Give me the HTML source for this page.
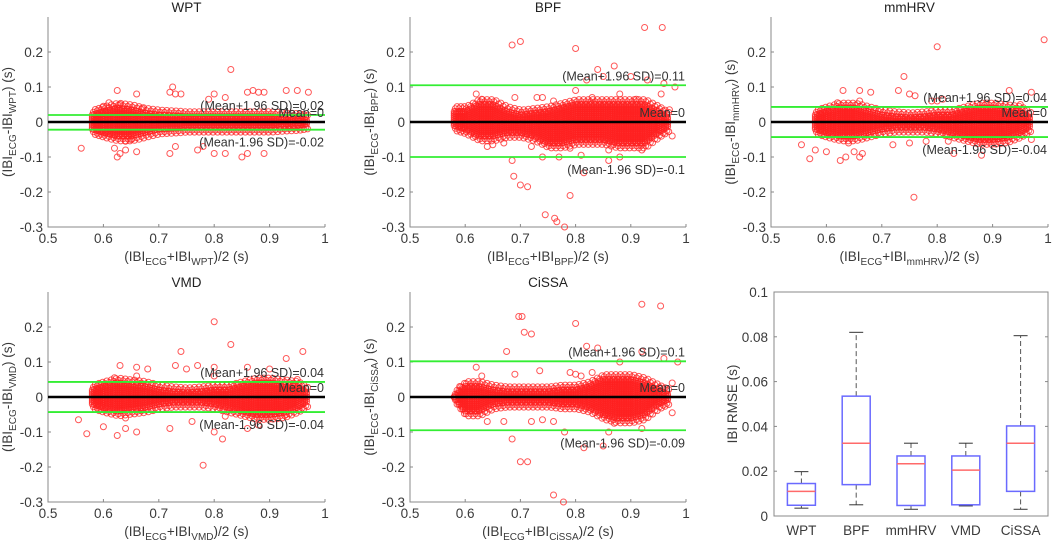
<!DOCTYPE html>
<html><head><meta charset="utf-8">
<style>
html,body{margin:0;padding:0;background:#fff;}
svg{display:block;font-family:"Liberation Sans",Arial,sans-serif;}
.tk{font-size:13.5px;fill:#3a3a3a;}
.ttl{font-size:13.5px;fill:#222;}
.ann{font-size:12.5px;fill:#333;}
</style></head>
<body>
<svg id="fig" width="1059" height="547" viewBox="0 0 1059 547" xmlns="http://www.w3.org/2000/svg"></svg>
<script>
// ---------- Data ----------
const panelNames = ["WPT","BPF","mmHRV","VMD","CiSSA"];
const xTicks = [0.5,0.6,0.7,0.8,0.9,1];
const xTickLabels = ["0.5","0.6","0.7","0.8","0.9","1"];
const yTicks = [-0.3,-0.2,-0.1,0,0.1,0.2];
const yTickLabels = ["-0.3","-0.2","-0.1","0","0.1","0.2"];
const meanVals = [0,0,0,0,0];
const upperLoA = [0.02,0.105,0.043,0.043,0.102];
const lowerLoA = [-0.022,-0.1,-0.043,-0.043,-0.095];
const upperText = ["0.02","0.11","0.04","0.04","0.1"];
const lowerText = ["-0.02","-0.1","-0.04","-0.04","-0.09"];
// dense band envelopes (x, upper, lower)
const bandX = [0.58,0.6,0.625,0.65,0.675,0.7,0.725,0.75,0.775,0.8,0.825,0.85,0.875,0.9,0.925,0.95,0.97];
const bandHi = [
 [0.02,0.03,0.04,0.035,0.025,0.02,0.018,0.015,0.015,0.015,0.015,0.015,0.015,0.015,0.012,0.01,0.005],
 [0.03,0.03,0.05,0.05,0.03,0.02,0.025,0.03,0.04,0.05,0.05,0.05,0.05,0.05,0.05,0.03,0.01],
 [0.02,0.03,0.04,0.04,0.03,0.02,0.015,0.012,0.015,0.02,0.02,0.03,0.04,0.04,0.035,0.03,0.01],
 [0.02,0.03,0.04,0.035,0.03,0.02,0.015,0.012,0.015,0.02,0.02,0.03,0.04,0.04,0.035,0.03,0.01],
 [0.0,0.03,0.03,0.02,0.015,0.015,0.015,0.015,0.02,0.02,0.03,0.05,0.05,0.05,0.04,0.02,0.005]];
const bandLo = [
 [-0.02,-0.03,-0.04,-0.04,-0.03,-0.02,-0.018,-0.015,-0.015,-0.015,-0.015,-0.015,-0.015,-0.015,-0.012,-0.01,-0.005],
 [-0.01,-0.02,-0.04,-0.04,-0.03,-0.03,-0.04,-0.06,-0.06,-0.05,-0.05,-0.05,-0.06,-0.06,-0.06,-0.03,-0.01],
 [-0.02,-0.03,-0.04,-0.04,-0.03,-0.02,-0.015,-0.015,-0.015,-0.02,-0.03,-0.04,-0.05,-0.05,-0.045,-0.03,-0.01],
 [-0.02,-0.03,-0.04,-0.035,-0.03,-0.02,-0.015,-0.015,-0.015,-0.02,-0.03,-0.04,-0.05,-0.05,-0.045,-0.03,-0.01],
 [0.0,-0.04,-0.04,-0.02,-0.015,-0.015,-0.015,-0.015,-0.02,-0.02,-0.03,-0.05,-0.06,-0.06,-0.05,-0.02,-0.005]];
const outX = [
 [0.56,0.625,0.66,0.625,0.63,0.64,0.62,0.66,0.725,0.72,0.73,0.74,0.83,0.79,0.8,0.82,0.86,0.87,0.88,0.89,0.93,0.95,0.97,0.72,0.73,0.77,0.8,0.82,0.85,0.86,0.89,0.78,0.6,0.63,0.65,0.67,0.64,0.61],
 [0.685,0.7,0.8,0.925,0.957,0.84,0.87,0.82,0.85,0.9,0.93,0.96,0.98,0.62,0.69,0.73,0.74,0.8,0.88,0.955,0.97,0.975,0.685,0.688,0.7,0.713,0.79,0.745,0.762,0.766,0.78,0.74,0.77,0.81,0.815,0.86,0.88,0.64,0.67,0.72,0.92,0.59,0.63,0.65,0.76,0.79,0.83,0.86,0.91],
 [0.993,0.8,0.74,0.63,0.66,0.68,0.73,0.75,0.76,0.79,0.81,0.93,0.97,0.555,0.57,0.58,0.6,0.625,0.635,0.65,0.66,0.665,0.72,0.75,0.78,0.83,0.88,0.758,0.97,0.62,0.64,0.66,0.8,0.82,0.95],
 [0.8,0.83,0.74,0.96,0.93,0.63,0.66,0.68,0.73,0.75,0.77,0.8,0.86,0.9,0.555,0.57,0.6,0.625,0.64,0.66,0.72,0.76,0.8,0.815,0.78,0.86,0.88,0.93,0.62,0.64,0.66,0.8,0.82,0.95],
 [0.697,0.703,0.8,0.707,0.72,0.92,0.954,0.675,0.82,0.84,0.88,0.92,0.96,0.985,0.62,0.69,0.735,0.8,0.81,0.79,0.975,0.975,0.685,0.7,0.713,0.76,0.778,0.72,0.74,0.76,0.815,0.78,0.85,0.86,0.92,0.64,0.67,0.59,0.63,0.83,0.87]];
const outY = [
 [-0.075,0.09,0.08,-0.1,-0.09,-0.08,-0.075,-0.085,0.1,0.085,0.08,0.08,0.15,0.065,0.08,0.07,0.085,0.09,0.085,0.085,0.09,0.09,0.085,-0.09,-0.07,-0.08,-0.09,-0.09,-0.1,-0.09,-0.09,-0.07,0.045,0.05,-0.05,0.04,-0.055,0.055],
 [0.22,0.23,0.21,0.27,0.27,0.15,0.16,0.12,0.13,0.13,0.12,0.11,0.1,0.08,0.07,0.07,0.07,0.09,0.08,0.08,0.035,-0.04,-0.11,-0.155,-0.18,-0.185,-0.21,-0.265,-0.275,-0.285,-0.3,-0.1,-0.1,-0.095,-0.145,-0.11,-0.1,-0.07,-0.06,-0.07,-0.08,0.03,0.065,-0.065,0.06,-0.075,0.07,-0.08,0.065],
 [0.235,0.215,0.13,0.09,0.09,0.085,0.09,0.08,0.075,0.06,0.065,0.09,0.085,-0.065,-0.105,-0.08,-0.085,-0.11,-0.1,-0.085,-0.1,-0.09,-0.065,-0.06,-0.055,-0.09,-0.095,-0.215,-0.05,0.055,-0.06,0.06,0.06,-0.055,0.05],
 [0.215,0.15,0.13,0.13,0.11,0.09,0.085,0.08,0.09,0.08,0.09,0.085,0.085,0.08,-0.065,-0.105,-0.085,-0.11,-0.09,-0.1,-0.09,-0.07,-0.1,-0.12,-0.195,-0.09,-0.08,-0.05,0.055,-0.06,0.06,0.06,-0.055,0.05],
 [0.23,0.23,0.21,0.185,0.18,0.265,0.26,0.13,0.145,0.14,0.1,0.13,0.11,0.1,0.085,0.065,0.075,0.065,0.06,0.07,0.04,-0.045,-0.12,-0.185,-0.185,-0.28,-0.3,-0.07,-0.065,-0.07,-0.145,-0.1,-0.14,-0.1,-0.09,-0.07,-0.07,0.03,0.06,0.07,-0.075]];
// boxplot
const boxCats = ["WPT","BPF","mmHRV","VMD","CiSSA"];
const boxQ1 = [0.0048,0.014,0.0047,0.005,0.011];
const boxMed = [0.011,0.0325,0.0233,0.0205,0.0325];
const boxQ3 = [0.0145,0.0535,0.0268,0.0268,0.0402];
const boxWLo = [0.0035,0.005,0.003,0.0045,0.003];
const boxWHi = [0.0198,0.082,0.0325,0.0325,0.0805];
const boxYTicks = [0,0.02,0.04,0.06,0.08,0.1];
const boxYTickLabels = ["0","0.02","0.04","0.06","0.08","0.1"];

// ---------- Drawing ----------
const NS="http://www.w3.org/2000/svg";
const svg=document.getElementById('fig');
function mk(tag,attrs,parent,txt){const e=document.createElementNS(NS,tag);for(const k in attrs)e.setAttribute(k,attrs[k]);if(txt!==undefined)e.textContent=txt;(parent||svg).appendChild(e);return e;}

const layouts=[{l:48,r:325,t:17,b:227},{l:410,r:686,t:17,b:227},{l:771,r:1048,t:17,b:227},{l:48,r:325,t:292,b:502},{l:410,r:686,t:292,b:502}];

panelNames.forEach((name,p)=>{
  const L=layouts[p];
  const g=mk('g',{});
  
  
  const xs=v=>L.l+(v-0.5)/0.5*(L.r-L.l);
  const ys=v=>L.b-(v+0.3)/0.6*(L.b-L.t);
  const ax=mk('path',{d:`M${L.l},${L.t}V${L.b}H${L.r}`,fill:'none',stroke:'#888','stroke-width':1},g);
  
  xTicks.forEach((t,i)=>{const x=xs(t);mk('line',{x1:x,x2:x,y1:L.b,y2:L.b-3,stroke:'#888'},g);
    const tx=mk('text',{x:x,y:L.b+16,'text-anchor':'middle',class:'tk'},g,xTickLabels[i]);
    });
  yTicks.forEach((t,i)=>{const y=ys(t);mk('line',{x1:L.l,x2:L.l+3,y1:y,y2:y,stroke:'#888'},g);
    const tx=mk('text',{x:L.l-5,y:y+5,'text-anchor':'end',class:'tk'},g,yTickLabels[i]);
    });
  const tt=mk('text',{x:(L.l+L.r)/2,y:L.t-5,'text-anchor':'middle',class:'ttl'},g,name);
  
  const pg=mk('g',{fill:'none',stroke:'#ff2020','stroke-width':1,'stroke-opacity':0.75},g);
  
  const hi=bandHi[p],lo=bandLo[p];
  for(let i=0;i<bandX.length-1;i++){
    const x0=bandX[i],x1=bandX[i+1];
    for(let k=0;k<6;k++){
      const f=k/6, xv=x0+(x1-x0)*f;
      const h=hi[i]+(hi[i+1]-hi[i])*f, l=lo[i]+(lo[i+1]-lo[i])*f;
      const n=Math.max(1,Math.round((h-l)/0.006));
      for(let j=0;j<=n;j++){
        const yv=l+(h-l)*j/n;
        mk('circle',{cx:xs(xv).toFixed(1),cy:ys(yv).toFixed(1),r:3},pg);
      }
      // soft edge points
      const e=(k%2===0)?0.008:0.014;
      mk('circle',{cx:xs(xv+0.002).toFixed(1),cy:ys(h+e).toFixed(1),r:3},pg);
      mk('circle',{cx:xs(xv+0.002).toFixed(1),cy:ys(l-e).toFixed(1),r:3},pg);
    }
  }
  outX[p].forEach((xv,i)=>{mk('circle',{cx:xs(xv),cy:ys(outY[p][i]),r:3},pg);});
  const ml=mk('line',{x1:L.l,x2:L.r,y1:ys(meanVals[p]),y2:ys(meanVals[p]),stroke:'#000','stroke-width':2.5},g);
  
  const ul=mk('line',{x1:L.l,x2:L.r,y1:ys(upperLoA[p]),y2:ys(upperLoA[p]),stroke:'#33ee33','stroke-width':1.8},g);
  
  const ll=mk('line',{x1:L.l,x2:L.r,y1:ys(lowerLoA[p]),y2:ys(lowerLoA[p]),stroke:'#33ee33','stroke-width':1.8},g);
  
  const a1=mk('text',{x:L.r-1,y:ys(upperLoA[p])-5,'text-anchor':'end',class:'ann'},g,'(Mean+1.96 SD)='+upperText[p]);
  
  const a2=mk('text',{x:L.r-1,y:ys(meanVals[p])-5,'text-anchor':'end',class:'ann'},g,'Mean=0');
  
  const a3=mk('text',{x:L.r-1,y:ys(lowerLoA[p])+17,'text-anchor':'end',class:'ann'},g,'(Mean-1.96 SD)='+lowerText[p]);
  
  const xl=mk('text',{x:(L.l+L.r)/2,y:L.b+34,'text-anchor':'middle',class:'tk','font-size':'14'},g);
  
  xl.innerHTML=`(IBI<tspan dy="4" font-size="10">ECG</tspan><tspan dy="-4">+IBI</tspan><tspan dy="4" font-size="10">${name}</tspan><tspan dy="-4">)/2 (s)</tspan>`;
  const cy=(L.t+L.b)/2, cx=L.l-36;
  const yl=mk('text',{x:cx,y:cy,'text-anchor':'middle',class:'tk','font-size':'14',transform:`rotate(-90 ${cx} ${cy})`},g);
  
  yl.innerHTML=`(IBI<tspan dy="4" font-size="10">ECG</tspan><tspan dy="-4">-IBI</tspan><tspan dy="4" font-size="10">${name}</tspan><tspan dy="-4">) (s)</tspan>`;
});

// boxplot
(function(){
  const L={l:774,r:1048,t:292,b:516};
  const g=mk('g',{});
  
  const ys=v=>L.b-v/0.1*(L.b-L.t);
  const xs=i=>L.l+(L.r-L.l)*(i+0.5)/boxCats.length;
  const bx=mk('rect',{x:L.l,y:L.t,width:L.r-L.l,height:L.b-L.t,fill:'none',stroke:'#888'},g);
  
  boxYTicks.forEach((t,i)=>{const y=ys(t);mk('line',{x1:L.l,x2:L.l+3,y1:y,y2:y,stroke:'#888'},g);mk('line',{x1:L.r,x2:L.r-3,y1:y,y2:y,stroke:'#888'},g);
    const tx=mk('text',{x:L.l-6,y:y+5,'text-anchor':'end',class:'tk'},g,boxYTickLabels[i]);
    });
  const yl=mk('text',{x:737,y:404,'text-anchor':'middle',class:'tk','font-size':'14',transform:'rotate(-90 737 404)'},g,'IBI RMSE (s)');
  
  boxCats.forEach((c,i)=>{
    const x=xs(i),w=28;
    const bg=mk('g',{},g);
    
    mk('line',{x1:x,x2:x,y1:ys(boxQ3[i]),y2:ys(boxWHi[i]),stroke:'#555','stroke-dasharray':'5,3'},bg);
    mk('line',{x1:x,x2:x,y1:ys(boxQ1[i]),y2:ys(boxWLo[i]),stroke:'#555','stroke-dasharray':'5,3'},bg);
    mk('line',{x1:x-7,x2:x+7,y1:ys(boxWHi[i]),y2:ys(boxWHi[i]),stroke:'#333'},bg);
    mk('line',{x1:x-7,x2:x+7,y1:ys(boxWLo[i]),y2:ys(boxWLo[i]),stroke:'#333'},bg);
    mk('rect',{x:x-w/2,y:ys(boxQ3[i]),width:w,height:ys(boxQ1[i])-ys(boxQ3[i]),fill:'none',stroke:'#6a6aff','stroke-width':1.5},bg);
    mk('line',{x1:x-w/2,x2:x+w/2,y1:ys(boxMed[i]),y2:ys(boxMed[i]),stroke:'#ff6a6a','stroke-width':1.5},bg);
    const tx=mk('text',{x:x,y:L.b+19,'text-anchor':'middle',class:'tk'},g,c);
    
  });
})();
</script>
</body></html>
